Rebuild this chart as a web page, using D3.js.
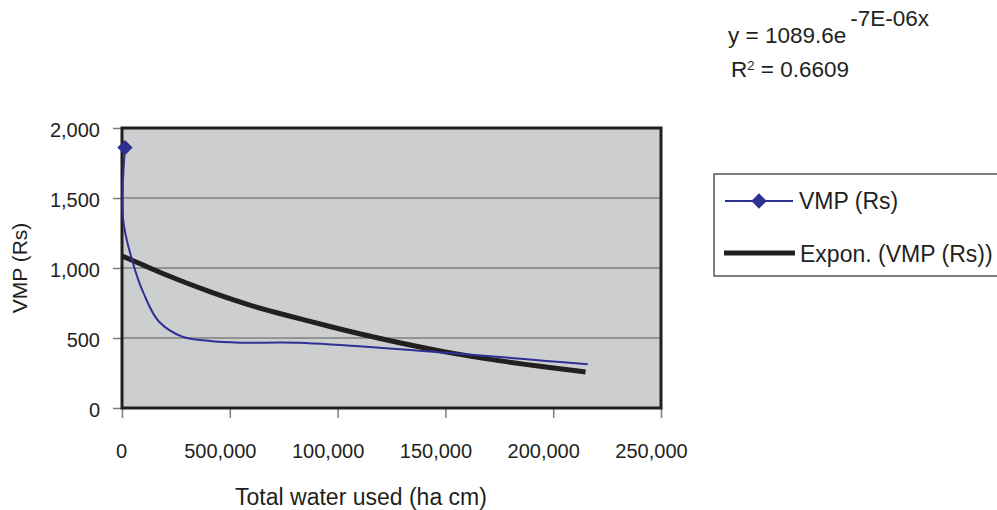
<!DOCTYPE html>
<html>
<head>
<meta charset="utf-8">
<script src="https://cdn.jsdelivr.net/npm/d3@7"></script>
<style>
  body { margin: 0; background: #fff; }
  svg text { font-family: "Liberation Sans", Arial, sans-serif; fill: #231f20; }
</style>
</head>
<body>
<div id="content"></div>
<script>
// VMP values
let vmpX = [1400, 500, 5000, 10000, 17000, 28000, 40000, 55000, 82000, 216000];
let vmpY = [1860, 1350, 1040, 820, 620, 510, 480, 466, 466, 312];

// exponential trendline as drawn (Expon.)
let trendX = [0, 10000, 22000, 31000, 41000, 53000, 62000, 73000, 82000, 98000, 121000, 149000, 175000, 200000, 215000];
let trendY = [1086, 1020, 940, 886, 829, 765, 721, 675, 640, 575, 490, 400, 336, 286, 257];

let xTicks = [0, 50000, 100000, 150000, 200000, 250000];
let xTickLabels = ["0", "500,000", "100,000", "150,000", "200,000", "250,000"];
let yTicks = [0, 500, 1000, 1500, 2000];
let yTickLabels = ["0", "500", "1,000", "1,500", "2,000"];

let width = 997, height = 510;
let svg = d3.select('#content').append('svg')
  .attr('width', width)
  .attr('height', height);

let x = d3.scaleLinear().domain([0, 250000]).range([122, 661]);
let y = d3.scaleLinear().domain([0, 2000]).range([408, 128]);

// plot area
svg.append('rect')
  .attr('x', x(0)).attr('y', y(2000))
  .attr('width', x(250000) - x(0)).attr('height', y(0) - y(2000))
  .attr('fill', '#cdcecf');

// gridlines
svg.append('g').selectAll('line')
  .data(yTicks.slice(1, -1))
  .join('line')
  .attr('x1', x(0)).attr('x2', x(250000))
  .attr('y1', d => y(d)).attr('y2', d => y(d))
  .attr('stroke', '#7f7f80').attr('stroke-width', 1.5);

// axes
let yAxis = svg.append('g')
  .attr('transform', `translate(${x(0)},0)`)
  .call(d3.axisLeft(y).tickValues(yTicks).tickSize(9).tickPadding(13)
    .tickFormat((d, i) => yTickLabels[i]));
let xAxis = svg.append('g')
  .attr('transform', `translate(0,${y(0)})`)
  .call(d3.axisBottom(x).tickValues(xTicks).tickSize(10)
    .tickFormat((d, i) => xTickLabels[i]));

[xAxis, yAxis].forEach(a => {
  a.select('.domain').remove();
  a.selectAll('line').attr('stroke', '#7f7f80').attr('stroke-width', 1.5);
  a.selectAll('text').style('font-size', '20px').attr('fill', '#231f20');
});
xAxis.selectAll('text').attr('y', 50).attr('dy', 0)
  .attr('dx', (d, i) => i === 0 ? -1 : -10);
yAxis.selectAll('text').attr('dy', '0.4em');

// plot border
svg.append('rect')
  .attr('x', x(0)).attr('y', y(2000))
  .attr('width', x(250000) - x(0)).attr('height', y(0) - y(2000))
  .attr('fill', 'none')
  .attr('stroke', '#231f20').attr('stroke-width', 3);

// trendline
let trendLine = d3.line()
  .x((d, i) => x(trendX[i]))
  .y(d => y(d))
  .curve(d3.curveBasis);
svg.append('path')
  .attr('d', trendLine(trendY))
  .attr('fill', 'none')
  .attr('stroke', '#231f20')
  .attr('stroke-width', 5)
  .attr('stroke-linejoin', 'round');

// VMP series
let vmpLine = d3.line()
  .x((d, i) => x(vmpX[i]))
  .y(d => y(d))
  .curve(d3.curveCatmullRom.alpha(0.5));
svg.append('path')
  .attr('d', vmpLine(vmpY))
  .attr('fill', 'none')
  .attr('stroke', '#2e3192')
  .attr('stroke-width', 2);

let diamond = d3.symbol().type(d3.symbolDiamond2).size(150);
svg.append('path')
  .attr('d', diamond())
  .attr('transform', `translate(${x(vmpX[0])},${y(vmpY[0])})`)
  .attr('fill', '#2e3192');

// axis titles
svg.append('text')
  .attr('x', 361).attr('y', 505)
  .attr('text-anchor', 'middle')
  .style('font-size', '23px')
  .text('Total water used (ha cm)');
svg.append('text')
  .attr('transform', 'translate(27,268) rotate(-90)')
  .attr('text-anchor', 'middle')
  .style('font-size', '21px')
  .text('VMP (Rs)');

// trendline equation
let eq = svg.append('text')
  .attr('x', 728).attr('y', 43)
  .style('font-size', '22.5px');
eq.append('tspan').text('y = 1089.6e');
eq.append('tspan').attr('dx', 4).attr('dy', -17).text('-7E-06x');
let r2 = svg.append('text')
  .attr('x', 731).attr('y', 77)
  .style('font-size', '22.5px');
r2.append('tspan').text('R');
r2.append('tspan').attr('dy', -7).style('font-size', '13px').text('2');
r2.append('tspan').attr('dy', 7).text(' = 0.6609');

// legend
let legend = svg.append('g');
legend.append('rect')
  .attr('x', 714).attr('y', 174)
  .attr('width', 300).attr('height', 102)
  .attr('fill', '#fff')
  .attr('stroke', '#555').attr('stroke-width', 1.5);
legend.append('line')
  .attr('x1', 725).attr('x2', 793).attr('y1', 201).attr('y2', 201)
  .attr('stroke', '#2e3192').attr('stroke-width', 2);
legend.append('path')
  .attr('d', diamond())
  .attr('transform', 'translate(759,201)')
  .attr('fill', '#2e3192');
legend.append('text')
  .attr('x', 799).attr('y', 209)
  .style('font-size', '23px')
  .text('VMP (Rs)');
legend.append('line')
  .attr('x1', 724).attr('x2', 795).attr('y1', 253).attr('y2', 253)
  .attr('stroke', '#231f20').attr('stroke-width', 5);
legend.append('text')
  .attr('x', 800).attr('y', 262)
  .style('font-size', '23px')
  .text('Expon. (VMP (Rs))');
</script>
</body>
</html>
